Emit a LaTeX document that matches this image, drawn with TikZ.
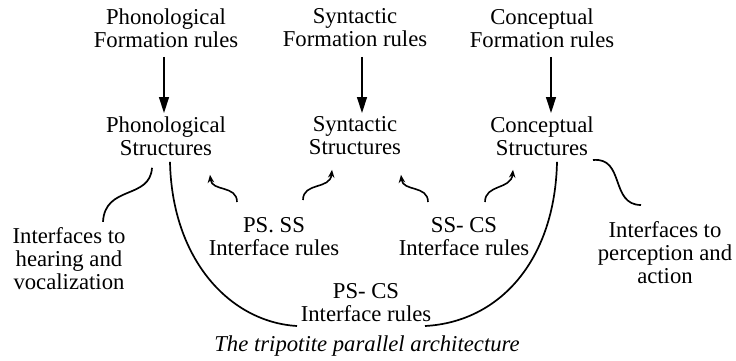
\documentclass[tikz,border=0pt]{standalone}
\usepackage{fontspec}
\setmainfont{Liberation Serif}
\usetikzlibrary{arrows.meta}
\begin{document}
\begin{tikzpicture}[x=1pt,y=-1pt,
  lbl/.style={font=\fontsize{22.7pt}{23pt}\selectfont, align=center, inner sep=0pt},
  bigarrow/.style={line width=1.4pt, -{Triangle[length=16pt,width=10pt]}},
  iarrow/.style={line width=1.6pt, -{Stealth[length=8pt,width=6.5pt]}},
  link/.style={line width=1.7pt}]
\useasboundingbox (0,0) rectangle (736,361);
% formation rules
\node[lbl] (pf) at (166,27.8) {Phonological\\Formation rules};
\node[lbl] (sf) at (355,27.8) {Syntactic\\Formation rules};
\node[lbl] (cf) at (542,27.8) {Conceptual\\Formation rules};
% structures
\node[lbl] (ps) at (166,135.8) {Phonological\\Structures};
\node[lbl] (ss) at (355,135.8) {Syntactic\\Structures};
\node[lbl] (cs) at (542,135.8) {Conceptual\\Structures};
% interface texts
\node[lbl] (ihv) at (69,258.5) {Interfaces to\\hearing and\\vocalization};
\node[lbl] (psss) at (274,237) {PS. SS\\Interface rules};
\node[lbl] (sscs) at (464,237) {SS- CS\\Interface rules};
\node[lbl] (pscs) at (366,302.5) {PS- CS\\Interface rules};
\node[lbl] (ipa) at (665,253) {Interfaces to\\perception and\\action};
\node[lbl, anchor=base, font=\fontsize{22.7pt}{23pt}\selectfont\itshape] (cap) at (367,351) {The tripotite parallel architecture};
% vertical arrows
\draw[bigarrow] ([shift={(-2,29.2)}]pf.center) -- ([shift={(-2,-22.8)}]ps.center);
\draw[bigarrow] ([shift={(7,29.2)}]sf.center) -- ([shift={(7,-22.8)}]ss.center);
\draw[bigarrow] ([shift={(9,29.2)}]cf.center) -- ([shift={(9,-22.8)}]cs.center);
% links to outside interfaces
\draw[link] ([shift={(-14,32)}]ps.center) .. controls +(-2,32) and +(2,-37) .. ([shift={(34,-36.7)}]ihv.center);
\draw[link] ([shift={(51,24.2)}]cs.center) .. controls +(32,-3) and +(-31,0) .. ([shift={(-24,-48)}]ipa.center);
% PS-CS big curves
\draw[link] ([shift={(4,26)}]ps.center) .. controls +(2,98) and +(-67,-4) .. ([shift={(-69,23.5)}]pscs.center);
\draw[link] ([shift={(15,26)}]cs.center) .. controls +(-2,98) and +(75,-4) .. ([shift={(59,23.5)}]pscs.center);
% interface arrows
\draw[iarrow] ([shift={(-37,-35)}]psss.center) .. controls +(0,-17) and +(2,17) .. ([shift={(44,39)}]ps.center);
\draw[iarrow] ([shift={(29,-37)}]psss.center) .. controls +(0,-18) and +(-2,20) .. ([shift={(-23,34)}]ss.center);
\draw[iarrow] ([shift={(-36,-35)}]sscs.center) .. controls +(0,-17) and +(2,17) .. ([shift={(46,39)}]ss.center);
\draw[iarrow] ([shift={(21,-35)}]sscs.center) .. controls +(0,-18) and +(-2,20) .. ([shift={(-29,34)}]cs.center);
\end{tikzpicture}
\end{document}
